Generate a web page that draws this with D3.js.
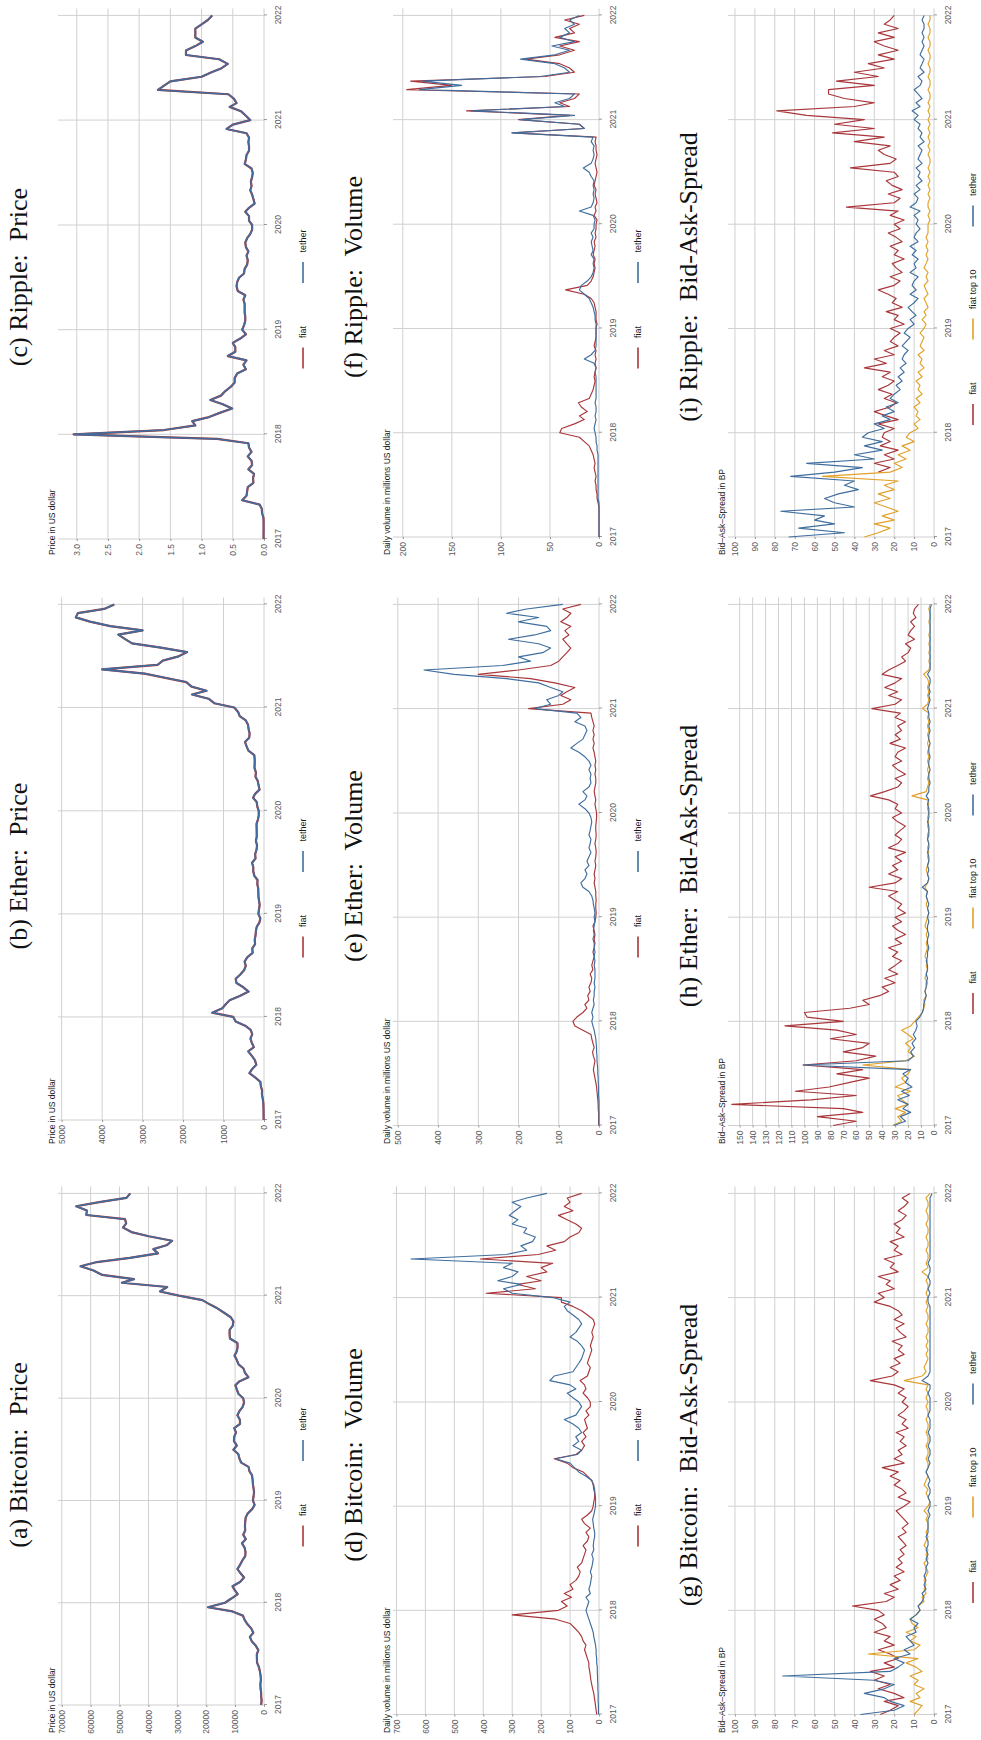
<!DOCTYPE html>
<html>
<head>
<meta charset="utf-8">
<script src="https://cdn.jsdelivr.net/npm/d3@7"></script>
<style>
  body { margin: 0; background: #fff; }
  svg { display: block; }
</style>
</head>
<body>
<div id="chart"></div>
<script>
////////////////////////////////////////////////////////////////////////
// Data: semi-monthly readings (1st and 16th of each month), 2017-01-01 .. 2022-01-01
// each array holds 24 values per year plus the final point

// Prices in US dollar (fiat and tether are almost identical)
const btcPrice = [
  1000, 830, 970, 1010, 1190, 1250, 1080, 1180, 1420, 1750, 2400, 2450, 2500, 1950, 2870, 4200, 4900, 3700, 4400, 5700, 6700, 7300, 10900, 19400,
  13500, 11300, 9100, 10200, 10900, 8300, 6900, 8100, 9200, 8300, 7500, 6500, 6400, 6700, 7600, 6300, 7200, 6500, 6600, 6500, 6350, 5600, 4100, 3250,
  3850, 3600, 3450, 3650, 3850, 3950, 4150, 5050, 5350, 7900, 8550, 8900, 10600, 9400, 10400, 10300, 9700, 10300, 8300, 8350, 9200, 8500, 7400, 6900,
  7200, 8800, 9400, 9900, 8550, 5400, 6600, 7100, 8800, 9400, 10200, 9450, 9150, 9200, 11800, 11900, 11900, 10800, 10600, 11500, 13800, 16000, 18800, 21300,
  29400, 36000, 33500, 49200, 45000, 56000, 59000, 63500, 57800, 46400, 36700, 38300, 33500, 31800, 39900, 45900, 48800, 47700, 48100, 61500, 61300, 65000, 57000, 47600,
  46300
];
const ethPrice = [
  8, 10, 10.7, 13, 16, 29, 50, 48, 78, 90, 220, 360, 290, 190, 225, 300, 390, 250, 300, 335, 290, 330, 465, 700,
  760, 1280, 1030, 940, 850, 600, 380, 510, 680, 700, 580, 490, 450, 480, 410, 280, 290, 220, 230, 210, 200, 180, 115, 90,
  140, 125, 107, 122, 136, 140, 142, 165, 160, 240, 265, 265, 295, 210, 218, 185, 172, 200, 180, 180, 182, 185, 150, 130,
  130, 165, 180, 270, 220, 110, 135, 155, 210, 200, 235, 230, 230, 240, 385, 430, 470, 365, 355, 380, 395, 450, 600, 640,
  735, 1230, 1370, 1780, 1420, 1790, 1920, 2440, 2950, 4000, 2630, 2500, 2110, 1900, 2550, 3260, 3440, 3600, 3000, 3800, 4300, 4650, 4600, 3950,
  3700
];
const xrpPrice = [
  0.0065, 0.0075, 0.0063, 0.0063, 0.0065, 0.0085, 0.03, 0.035, 0.07, 0.35, 0.28, 0.27, 0.26, 0.17, 0.175, 0.16, 0.25, 0.19, 0.2, 0.26, 0.2, 0.24, 0.25, 0.75,
  3.05, 1.6, 1.1, 1.15, 0.9, 0.72, 0.51, 0.66, 0.86, 0.69, 0.62, 0.53, 0.47, 0.47, 0.43, 0.29, 0.33, 0.28, 0.58, 0.46, 0.46, 0.5, 0.38, 0.29,
  0.35, 0.32, 0.3, 0.3, 0.31, 0.31, 0.31, 0.33, 0.3, 0.42, 0.44, 0.43, 0.4, 0.32, 0.31, 0.27, 0.26, 0.28, 0.25, 0.29, 0.3, 0.27, 0.22, 0.19,
  0.19, 0.24, 0.24, 0.3, 0.24, 0.15, 0.17, 0.19, 0.22, 0.2, 0.21, 0.19, 0.18, 0.2, 0.31, 0.29, 0.28, 0.24, 0.24, 0.25, 0.24, 0.28, 0.6, 0.5,
  0.22, 0.29, 0.37, 0.55, 0.44, 0.48, 0.57, 1.7, 1.6, 1.5, 1.0, 0.85, 0.68, 0.58, 0.72, 1.25, 1.25, 1.1, 0.98, 1.1, 1.1, 1.1, 1.0, 0.9,
  0.83
];

// Daily volume in millions US dollar
const btcVolFiat = [
  8, 10, 12, 14, 16, 18, 22, 25, 28, 30, 32, 35, 35, 40, 45, 50, 45, 55, 60, 70, 85, 100, 150, 300,
  140, 110, 130, 95, 120, 90, 100, 80, 70, 65, 75, 60, 55, 50, 45, 55, 40, 35, 45, 30, 50, 60, 40, 25,
  20, 18, 15, 15, 18, 20, 25, 40, 55, 90, 110, 155, 80, 60, 50, 60, 45, 55, 40, 45, 50, 35, 45, 30,
  30, 40, 55, 45, 50, 65, 40, 35, 30, 40, 35, 30, 25, 30, 25, 20, 25, 20, 15, 20, 40, 60, 90, 130,
  130, 390, 220, 280, 200, 250, 180, 200, 160, 410, 210, 150, 180, 120, 100, 70, 60, 80, 110, 140, 90, 120, 100, 110,
  60
];
const btcVolTether = [
  2, 2, 2, 3, 3, 3, 4, 4, 5, 5, 6, 6, 8, 8, 10, 10, 12, 15, 18, 20, 25, 30, 35, 40,
  45, 40, 35, 45, 30, 35, 30, 28, 25, 30, 25, 22, 20, 25, 18, 20, 18, 15, 15, 18, 20, 22, 18, 15,
  12, 12, 12, 14, 15, 18, 25, 45, 70, 85, 100, 150, 75, 60, 90, 70, 80, 60, 70, 90, 120, 80, 70, 60,
  70, 90, 110, 80, 100, 170, 155, 90, 80, 70, 60, 55, 50, 60, 75, 100, 80, 70, 60, 70, 90, 110, 120, 100,
  160, 300, 330, 270, 350, 300, 280, 330, 300, 650, 320, 250, 270, 230, 220, 260, 250, 300, 280, 310, 290, 270, 300, 250,
  180
];
const ethVolFiat = [
  1, 1, 1, 1, 2, 2, 3, 4, 5, 6, 8, 10, 12, 14, 12, 10, 14, 16, 12, 15, 18, 20, 40, 60,
  65, 55, 40, 30, 35, 25, 28, 22, 25, 20, 18, 22, 15, 18, 15, 12, 15, 12, 10, 12, 10, 12, 15, 10,
  8, 7, 8, 8, 7, 8, 8, 10, 12, 10, 12, 10, 8, 10, 8, 7, 8, 10, 8, 7, 8, 8, 7, 6,
  6, 8, 10, 8, 10, 12, 10, 8, 8, 10, 8, 10, 8, 10, 12, 15, 12, 15, 12, 15, 12, 15, 18, 20,
  175, 90, 70, 95, 80, 60, 110, 170, 300, 200, 120, 100, 90, 80, 70, 80, 90, 75, 85, 70, 95, 80, 70, 90,
  45
];
const ethVolTether = [
  0, 0, 0, 0, 0, 0, 0, 1, 1, 1, 2, 2, 3, 3, 4, 5, 5, 6, 6, 7, 8, 10, 12, 15,
  18, 15, 18, 15, 12, 14, 12, 12, 10, 12, 10, 10, 10, 12, 10, 12, 10, 12, 12, 15, 12, 14, 12, 10,
  12, 10, 12, 14, 15, 18, 25, 40, 45, 35, 30, 35, 25, 30, 25, 20, 25, 22, 20, 25, 22, 20, 18, 20,
  25, 35, 50, 35, 30, 40, 25, 20, 22, 20, 25, 20, 25, 35, 50, 70, 55, 40, 35, 30, 35, 60, 45, 55,
  160, 120, 130, 100, 90, 120, 150, 230, 360, 435, 240, 170, 200, 140, 120, 150, 225, 160, 120, 130, 200, 150, 230, 180,
  90
];
const xrpVolFiat = [
  0, 0, 0, 0, 0, 0, 0, 0, 1, 2, 2, 3, 3, 4, 3, 4, 5, 4, 5, 6, 8, 10, 15, 20,
  40, 38, 25, 15, 20, 12, 18, 21, 10, 8, 6, 5, 4, 5, 4, 3, 4, 3, 4, 3, 5, 4, 3, 3,
  3, 2, 3, 3, 3, 4, 5, 8, 15, 34, 12, 8, 6, 5, 4, 5, 4, 6, 5, 4, 5, 3, 4, 3,
  3, 2, 5, 3, 4, 2, 3, 4, 3, 5, 4, 3, 2, 3, 4, 3, 2, 3, 3, 4, 3, 88, 15, 20,
  82, 30, 135, 30, 40, 25, 20, 196, 150, 192, 55, 25, 30, 40, 75, 40, 25, 40, 20, 45, 25, 30, 20, 35,
  15
];
const xrpVolTether = [
  0, 0, 0, 0, 0, 0, 0, 0, 0, 1, 1, 1, 1, 1, 1, 1, 1, 1, 1, 1, 2, 2, 3, 3,
  4, 5, 4, 3, 4, 3, 3, 4, 3, 3, 3, 3, 3, 3, 4, 3, 5, 15, 8, 4, 3, 3, 3, 3,
  3, 3, 4, 4, 5, 6, 8, 10, 15, 20, 18, 12, 8, 6, 5, 6, 5, 8, 6, 7, 8, 6, 8, 5,
  5, 4, 6, 20, 8, 6, 5, 6, 5, 6, 5, 8, 10, 16, 8, 6, 5, 6, 5, 8, 6, 89, 15, 20,
  80, 25, 130, 35, 45, 30, 25, 183, 140, 180, 60, 30, 35, 45, 80, 45, 30, 48, 25, 40, 30, 35, 25, 30,
  20
];

// Bid-Ask-Spread in basis points
const btcSpreadFiat = [
  27, 22, 18, 25, 15, 20, 28, 22, 30, 25, 32, 20, 25, 18, 22, 28, 20, 25, 22, 30, 24, 26, 30, 25,
  28, 41, 24, 20, 25, 18, 22, 17, 20, 15, 19, 16, 18, 15, 17, 14, 16, 18, 14, 16, 13, 15, 17, 19,
  15, 12, 18, 14, 16, 20, 17, 22, 18, 26, 15, 20, 16, 18, 14, 17, 15, 19, 13, 16, 14, 18, 15, 13,
  16, 14, 18, 15, 20, 32, 21, 18, 22, 17, 20, 15, 18, 16, 21, 14, 17, 19, 15, 20, 16, 18, 22, 30,
  25, 28, 20, 24, 22, 28, 18, 22, 20, 25, 16, 20, 18, 22, 15, 19, 17, 20, 16, 14, 18, 15, 13, 16,
  12
];
const btcSpreadTop10 = [
  10, 8, 6, 12, 7, 9, 5, 10, 8, 12, 6, 9, 14, 8, 33, 10, 7, 12, 9, 14, 8, 11, 12, 9,
  7, 8, 5, 6, 4, 5, 4, 5, 4, 3, 4, 5, 3, 4, 3, 5, 4, 3, 4, 3, 3, 4, 3, 5,
  3, 2, 3, 4, 3, 5, 4, 3, 4, 3, 3, 4, 3, 3, 4, 3, 3, 4, 3, 3, 4, 3, 3, 4,
  3, 4, 3, 4, 3, 15, 6, 4, 5, 4, 3, 4, 3, 4, 3, 4, 3, 3, 4, 3, 3, 4, 3, 4,
  3, 4, 3, 3, 4, 3, 6, 3, 4, 3, 3, 4, 3, 3, 4, 3, 3, 4, 3, 3, 4, 3, 3, 4,
  2
];
const btcSpreadTether = [
  37, 20, 15, 22, 25, 35, 25, 20, 30, 76, 22, 18, 15, 20, 12, 15, 10, 12, 14, 9, 10, 8, 12, 9,
  7, 8, 6, 5, 6, 4, 5, 4, 5, 4, 4, 3, 4, 3, 4, 3, 3, 4, 3, 3, 3, 3, 2, 3,
  2, 2, 3, 2, 2, 3, 2, 3, 4, 3, 2, 3, 2, 2, 3, 2, 2, 3, 2, 2, 2, 3, 2, 2,
  2, 2, 3, 2, 2, 6, 3, 2, 2, 2, 2, 2, 2, 2, 2, 2, 2, 2, 2, 2, 2, 2, 2, 3,
  3, 2, 3, 2, 2, 3, 2, 2, 3, 2, 2, 2, 2, 2, 2, 2, 2, 2, 2, 2, 2, 2, 2, 2,
  1
];
const ethSpreadFiat = [
  78, 60, 90, 55, 70, 156, 95, 60, 107, 81, 65, 50, 75, 55, 101, 60, 45, 70, 55, 50, 80, 60, 75, 115,
  70, 98, 100, 65, 50, 55, 42, 35, 40, 30, 38, 28, 35, 30, 25, 32, 28, 35, 25, 30, 22, 28, 32, 25,
  30, 22, 28, 25, 30, 35, 28, 50, 30, 25, 35, 28, 32, 25, 30, 22, 35, 28, 25, 30, 26, 22, 28, 32,
  25, 30, 28, 35, 49, 38, 28, 25, 30, 22, 28, 32, 25, 30, 28, 22, 34, 26, 30, 25, 28, 22, 30, 26,
  48, 30, 25, 35, 28, 38, 30, 25, 40, 35, 28, 22, 25, 20, 18, 22, 15, 20, 18, 15, 18, 14, 16, 15,
  12
];
const ethSpreadTop10 = [
  32, 25, 28, 22, 30, 20, 25, 28, 18, 30, 22, 25, 20, 18, 55, 22, 15, 20, 18, 22, 16, 20, 25, 18,
  15, 12, 9, 8, 7, 8, 6, 7, 6, 5, 7, 6, 5, 6, 5, 7, 6, 5, 6, 5, 6, 5, 7, 6,
  5, 4, 5, 6, 5, 6, 5, 7, 5, 4, 5, 6, 5, 4, 5, 4, 5, 4, 5, 5, 4, 5, 4, 5,
  4, 5, 4, 5, 17, 6, 5, 4, 5, 4, 5, 4, 5, 4, 5, 4, 5, 4, 5, 4, 5, 4, 5, 4,
  9, 5, 4, 5, 4, 5, 4, 5, 8, 4, 3, 4, 3, 4, 3, 4, 3, 4, 3, 3, 4, 3, 3, 4,
  3
];
const ethSpreadTether = [
  31, 22, 26, 18, 24, 20, 28, 19, 25, 17, 22, 20, 24, 18, 101, 20, 16, 18, 15, 17, 14, 16, 14, 13,
  14, 11, 9, 8, 8, 7, 6, 7, 6, 6, 5, 6, 5, 5, 6, 5, 5, 4, 5, 5, 4, 5, 5, 4,
  5, 4, 5, 4, 5, 6, 5, 9, 5, 4, 5, 4, 5, 4, 4, 5, 4, 4, 5, 4, 4, 4, 5, 4,
  4, 4, 5, 4, 6, 4, 4, 3, 4, 4, 3, 4, 4, 3, 4, 4, 3, 4, 4, 3, 4, 3, 4, 4,
  5, 4, 3, 4, 3, 4, 3, 3, 5, 3, 3, 3, 3, 3, 3, 3, 3, 3, 3, 3, 3, 3, 3, 3,
  2
];
const xrpSpreadFiat = [
  null, null, null, null, null, null, null, null, null, null, null, null, null, null, null, 28, 22, 30, 20, 25, 18, 27, 22, 26,
  25, 20, 28, 18, 24, 30, 22, 19, 25, 21, 28, 23, 20, 26, 22, 35, 24, 30, 20, 25, 18, 22, 20, 17,
  22, 15, 20, 18, 24, 16, 21, 19, 23, 28, 20, 17, 22, 16, 19, 21, 15, 20, 18, 22, 16, 19, 23, 17,
  20, 15, 22, 18, 44, 20, 17, 23, 16, 21, 24, 18, 20, 42, 22, 19, 25, 28, 22, 40, 25, 51, 30, 50,
  35, 64, 79, 40, 30, 45, 53, 53, 30, 49, 28, 40, 25, 33, 20, 28, 18, 25, 30, 20, 28, 18, 25, 22,
  20
];
const xrpSpreadTop10 = [
  35, 28, 22, 30, 20, 26, 18, 24, 30, 22, 28, 20, 25, 18, 56, 22, 16, 20, 14, 18, 12, 16, 10, 14,
  12, 8, 10, 7, 9, 8, 10, 7, 9, 6, 8, 7, 9, 6, 8, 5, 7, 6, 8, 5, 7, 6, 5, 7,
  5, 4, 6, 4, 5, 3, 4, 5, 3, 4, 5, 3, 4, 3, 5, 4, 3, 4, 3, 4, 3, 4, 3, 3,
  3, 2, 3, 2, 3, 3, 2, 3, 2, 3, 2, 3, 2, 3, 2, 2, 3, 2, 3, 2, 3, 2, 3, 2,
  3, 2, 3, 2, 3, 2, 2, 3, 2, 2, 3, 2, 2, 3, 2, 2, 3, 2, 2, 3, 2, 2, 3, 2,
  2
];
const xrpSpreadTether = [
  73, 45, 68, 50, 60, 55, 77, 40, 50, 55, 48, 38, 45, 40, 72, 50, 36, 64, 30, 40, 26, 35, 26, 36,
  33, 25, 30, 22, 26, 20, 24, 18, 22, 20, 17, 19, 16, 18, 15, 17, 14, 16, 15, 13, 16, 14, 12, 15,
  13, 10, 12, 9, 11, 13, 10, 8, 12, 9, 11, 10, 8, 12, 9, 10, 8, 11, 9, 12, 8, 10, 9, 7,
  9, 8, 10, 7, 12, 9, 8, 10, 7, 9, 6, 8, 7, 9, 6, 8, 7, 6, 8, 5, 7, 6, 8, 7,
  10, 8, 11, 7, 9, 6, 8, 10, 7, 6, 8, 5, 7, 6, 5, 7, 6, 5, 6, 5, 6, 5, 5, 6,
  5
];

// Panel texts and axis settings, in the order (a) .. (i)
const panelTitles = [
  "(a) Bitcoin:\u00a0 Price", "(b) Ether:\u00a0 Price", "(c) Ripple:\u00a0 Price",
  "(d) Bitcoin:\u00a0 Volume", "(e) Ether:\u00a0 Volume", "(f) Ripple:\u00a0 Volume",
  "(g) Bitcoin:\u00a0 Bid-Ask-Spread", "(h) Ether:\u00a0 Bid-Ask-Spread", "(i) Ripple:\u00a0 Bid-Ask-Spread"
];
const rowLabels = ["Price in US dollar", "Daily volume in millions US dollar", "Bid\u2013Ask\u2013Spread in BP"];
const yMaxes = [71300, 5090, 3.3, 712, 512, 210, 103.5, 159, 103.5];
const yTickMax = [70000, 5000, 3, 700, 500, 200, 100, 150, 100];
const yTickStep = [10000, 1000, 0.5, 100, 100, 50, 10, 10, 10];
const seriesNames = ["fiat", "fiat top 10", "tether"];
const seriesColors = ["#a8363a", "#e1a12a", "#3f6e9e"];
const panelSeries = [
  [btcPrice, null, btcPrice], [ethPrice, null, ethPrice], [xrpPrice, null, xrpPrice],
  [btcVolFiat, null, btcVolTether], [ethVolFiat, null, ethVolTether], [xrpVolFiat, null, xrpVolTether],
  [btcSpreadFiat, btcSpreadTop10, btcSpreadTether], [ethSpreadFiat, ethSpreadTop10, ethSpreadTether],
  [xrpSpreadFiat, xrpSpreadTop10, xrpSpreadTether]
];

// sampling dates: 1st and 16th of every month, then 2022-01-01
const dates = [];
d3.timeMonth.range(new Date(2017, 0, 1), new Date(2022, 0, 1)).forEach(m => {
  dates.push(m, d3.timeDay.offset(m, 15));
});
dates.push(new Date(2022, 0, 1));

////////////////////////////////////////////////////////////////////////
// Layout. The figure is drawn landscape (1740 x 981) and then turned a
// quarter turn to the left to fit the 981 x 1740 page.

const pageW = 981, pageH = 1740;
const colStart = [0, 589, 1178];
const rowTop = [0, 335, 670];
const plotLeft = [35, 31, 23, 25.5, 25.5, 25, 25.5, 25.5, 25];
const plotRight = 546.6;     // position of 2022 inside a column
const plotTop = 58, plotBottom = 264;
const gridColor = "#d0d0d0";
const smallFont = "'Liberation Sans', Arial, sans-serif";

let svg = d3.select("#chart")
  .append("svg")
  .attr("width", pageW)
  .attr("height", pageH);

let fig = svg.append("g")
  .attr("transform", `translate(0,${pageH}) rotate(-90)`);

for (let k = 0; k < 9; k++) {
  drawPanel(k);
}

function drawPanel(k) {
  let row = Math.floor(k / 3), col = k % 3;
  let x0 = colStart[col], y0 = rowTop[row];
  let left = x0 + plotLeft[k], right = x0 + plotRight;

  let xScale = d3.scaleTime()
    .domain([new Date(2017, 0, 1), new Date(2022, 0, 1)])
    .range([left, right]);
  let yScale = d3.scaleLinear()
    .domain([0, yMaxes[k]])
    .range([y0 + plotBottom, y0 + plotTop]);

  let g = fig.append("g").attr("class", "panel");

  // grid lines
  let yTicks = d3.range(0, yTickMax[k] + yTickStep[k] / 2, yTickStep[k]);
  g.append("g")
    .selectAll("line")
    .data(yTicks)
    .join("line")
    .attr("x1", left)
    .attr("x2", right + 7)
    .attr("y1", d => yScale(d))
    .attr("y2", d => yScale(d))
    .attr("stroke", gridColor)
    .attr("stroke-width", 1);

  let years = xScale.ticks(d3.timeYear.every(1));
  g.append("g")
    .selectAll("line")
    .data(years)
    .join("line")
    .attr("x1", d => xScale(d))
    .attr("x2", d => xScale(d))
    .attr("y1", y0 + plotTop)
    .attr("y2", y0 + plotBottom)
    .attr("stroke", gridColor)
    .attr("stroke-width", 1);

  // axes
  let xAxis = g.append("g")
    .attr("transform", `translate(0,${y0 + plotBottom})`)
    .call(d3.axisBottom(xScale)
      .tickValues(years)
      .tickFormat(d3.timeFormat("%Y"))
      .tickSize(3)
      .tickPadding(8));
  let yAxis = g.append("g")
    .attr("transform", `translate(${left},0)`)
    .call(d3.axisLeft(yScale)
      .tickValues(yTicks)
      .tickFormat(k == 2 ? d3.format(".1f") : d3.format("d"))
      .tickSize(2)
      .tickPadding(3));
  [xAxis, yAxis].forEach(a => {
    a.select(".domain").remove();
    a.selectAll(".tick line").attr("stroke", "#555").attr("stroke-width", 0.6);
    a.selectAll("text")
      .attr("fill", "#5a5a5a")
      .style("font-family", smallFont)
      .style("font-size", "8.5px");
  });

  // data lines
  let line = d3.line()
    .defined(d => d[1] != null)
    .x(d => xScale(d[0]))
    .y(d => yScale(d[1]));
  panelSeries[k].forEach((values, s) => {
    if (!values) return;
    g.append("path")
      .datum(values.map((v, i) => [dates[i], v]))
      .attr("d", line)
      .attr("fill", "none")
      .attr("stroke", seriesColors[s])
      .attr("stroke-width", row == 0 ? (s == 0 ? 2.2 : 1.6) : 1.15)
      .attr("stroke-linejoin", "round");
  });

  // title (centered over the column) and y label
  g.append("text")
    .attr("x", x0 + 285)
    .attr("y", y0 + 27)
    .attr("text-anchor", "middle")
    .style("font-family", "'Liberation Serif', 'Times New Roman', serif")
    .style("font-size", "26px")
    .attr("fill", "#111")
    .text(panelTitles[k]);

  g.append("text")
    .attr("x", x0 + 7)
    .attr("y", y0 + 55)
    .style("font-family", smallFont)
    .style("font-size", "8.5px")
    .attr("fill", "#1a1a1a")
    .text(rowLabels[row]);

  // legend below the plot
  let legend = g.append("g");
  let pos = 0;
  panelSeries[k].forEach((values, s) => {
    if (!values) return;
    let item = legend.append("g").attr("transform", `translate(${pos},0)`);
    item.append("line")
      .attr("x1", 0).attr("x2", 21)
      .attr("y1", 0).attr("y2", 0)
      .attr("stroke", seriesColors[s])
      .attr("stroke-width", 1.6);
    let t = item.append("text")
      .attr("x", 30.5)
      .attr("y", 3.2)
      .style("font-family", smallFont)
      .style("font-size", "9px")
      .attr("fill", "#1a1a1a")
      .text(seriesNames[s]);
    pos += 30.5 + t.node().getComputedTextLength() + 43;
  });
  let total = pos - 43;
  legend.attr("transform", `translate(${x0 + 263 - total / 2},${y0 + 303})`);
}
</script>
</body>
</html>
